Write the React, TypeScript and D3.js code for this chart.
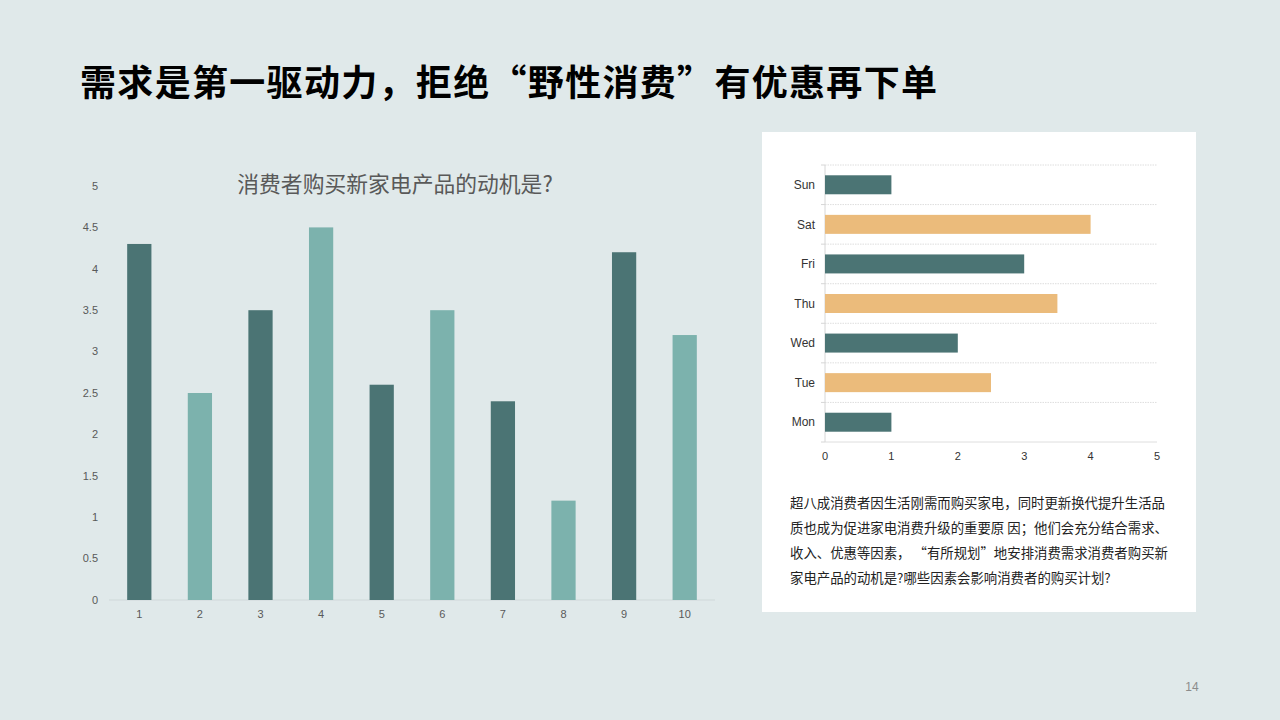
import React from 'react';
import * as d3 from 'd3';

const pageTitle = '需求是第一驱动力，拒绝“野性消费”有优惠再下单';
const chartTitle = '消费者购买新家电产品的动机是?';

const motiveCats = ['1', '2', '3', '4', '5', '6', '7', '8', '9', '10'];
const motiveValues = [4.3, 2.5, 3.5, 4.5, 2.6, 3.5, 2.4, 1.2, 4.2, 3.2];
const motiveTicks = [0, 0.5, 1, 1.5, 2, 2.5, 3, 3.5, 4, 4.5, 5];

const dayCats = ['Sun', 'Sat', 'Fri', 'Thu', 'Wed', 'Tue', 'Mon'];
const dayValues = [1, 4, 3, 3.5, 2, 2.5, 1];
const dayTicks = [0, 1, 2, 3, 4, 5];

const paragraph = [
  '超八成消费者因生活刚需而购买家电，同时更新换代提升生活品',
  '质也成为促进家电消费升级的重要原 因；他们会充分结合需求、',
  '收入、优惠等因素， “有所规划”地安排消费需求消费者购买新',
  '家电产品的动机是?哪些因素会影响消费者的购买计划?',
];

const DARK = '#4b7474';
const LIGHT = '#7cb2ad';
const ORANGE = '#ebbb7b';
const FONT = '"Liberation Sans", Arial, "Noto Sans CJK SC", sans-serif';
const CJK = '"Noto Sans CJK SC", "Liberation Sans", sans-serif';

const App = () => {
  // left column chart
  const x = d3
    .scaleBand<string>()
    .domain(motiveCats)
    .range([109, 715])
    .paddingInner(0.6)
    .paddingOuter(0.3);
  const y = d3.scaleLinear().domain([0, 5]).range([600, 186]);

  // right bar chart
  const rowBand = d3.scaleBand<string>().domain(dayCats).range([165, 442]).padding(0);
  const barH = rowBand.bandwidth() * 0.48;
  const dx = d3.scaleLinear().domain([0, 5]).range([825, 1157]);

  return (
    <svg
      width={1280}
      height={720}
      style={{ position: 'absolute', left: 0, top: 0, display: 'block' }}
    >
      <rect x={0} y={0} width={1280} height={720} fill="#e0e9ea" />

      <text
        x={80}
        y={96}
        fontFamily={CJK}
        fontSize={36}
        fontWeight="bold"
        fill="#000"
        textLength={857}
        lengthAdjust="spacing"
      >
        {pageTitle}
      </text>

      {/* left chart */}
      <text
        x={395}
        y={192}
        textAnchor="middle"
        fontFamily={CJK}
        fontSize={21.8}
        fill="#595959"
      >
        {chartTitle}
      </text>
      {motiveTicks.map((t) => (
        <text
          key={t}
          x={98}
          y={y(t)}
          dy="0.35em"
          textAnchor="end"
          fontFamily={FONT}
          fontSize={11}
          fill="#595959"
        >
          {t}
        </text>
      ))}
      <line x1={109} x2={715} y1={y(0)} y2={y(0)} stroke="#cfd8d9" strokeWidth={1} />
      {motiveCats.map((c, i) => (
        <rect
          key={c}
          x={x(c)}
          y={y(motiveValues[i])}
          width={x.bandwidth()}
          height={y(0) - y(motiveValues[i])}
          fill={i % 2 === 0 ? DARK : LIGHT}
        />
      ))}
      {motiveCats.map((c) => (
        <text
          key={c}
          x={(x(c) ?? 0) + x.bandwidth() / 2}
          y={614}
          dy="0.35em"
          textAnchor="middle"
          fontFamily={FONT}
          fontSize={11}
          fill="#595959"
        >
          {c}
        </text>
      ))}

      {/* right panel */}
      <rect x={762} y={132} width={434} height={480} fill="#ffffff" />
      {[...dayCats.map((c) => rowBand(c) ?? 0), 442].map((gy, i) => (
        <g key={i}>
          <line
            x1={825}
            x2={1157}
            y1={gy}
            y2={gy}
            stroke="#dedede"
            strokeWidth={1}
            strokeDasharray={i === dayCats.length ? undefined : '1.5,1'}
          />
          <line x1={821} x2={825} y1={gy} y2={gy} stroke="#d6d6d6" strokeWidth={1} />
        </g>
      ))}
      <line x1={825} x2={825} y1={165} y2={442} stroke="#d6d6d6" strokeWidth={1} />
      {dayCats.map((c, i) => {
        const top = (rowBand(c) ?? 0) + (rowBand.bandwidth() - barH) / 2;
        return (
          <g key={c}>
            <rect
              x={dx(0)}
              y={top}
              width={dx(dayValues[i]) - dx(0)}
              height={barH}
              fill={i % 2 === 0 ? DARK : ORANGE}
            />
            <text
              x={815}
              y={(rowBand(c) ?? 0) + rowBand.bandwidth() / 2}
              dy="0.35em"
              textAnchor="end"
              fontFamily={FONT}
              fontSize={12}
              fill="#333"
            >
              {c}
            </text>
          </g>
        );
      })}
      {dayTicks.map((t) => (
        <text
          key={t}
          x={dx(t)}
          y={456}
          dy="0.35em"
          textAnchor="middle"
          fontFamily={FONT}
          fontSize={11}
          fill="#333"
        >
          {t}
        </text>
      ))}

      {paragraph.map((line, i) => (
        <text
          key={i}
          x={790}
          y={508 + i * 25}
          fontFamily={CJK}
          fontSize={13.4}
          fill="#222"
        >
          {line}
        </text>
      ))}

      <text
        x={1192}
        y={691}
        textAnchor="middle"
        fontFamily={FONT}
        fontSize={12}
        fill="#8c8c8c"
      >
        14
      </text>
    </svg>
  );
};

export default App;
